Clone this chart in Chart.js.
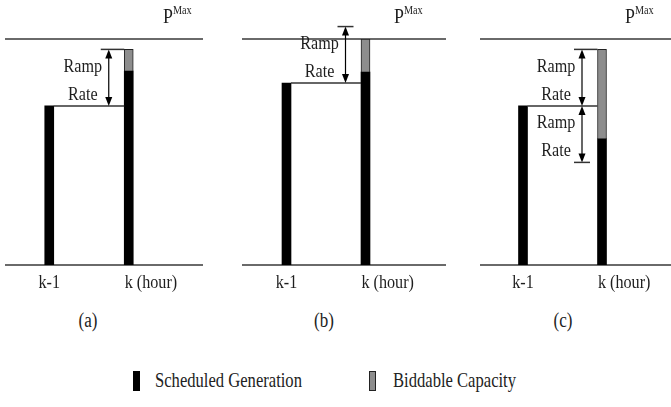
<!DOCTYPE html>
<html><head><meta charset="utf-8">
<script src="https://cdn.jsdelivr.net/npm/chart.js@4"></script>
<style>
html,body{margin:0;padding:0;background:#fff;width:671px;height:407px;overflow:hidden;position:relative;}
canvas.pan{position:absolute;left:0;top:0;}
.cap{position:absolute;font:20px "Liberation Serif",serif;color:#222;transform:translate(-50%,-50%) scaleX(0.85);white-space:nowrap;}
.lg{position:absolute;font:21px "Liberation Serif",serif;color:#222;transform:translateY(-50%) scaleX(0.79);transform-origin:left center;white-space:nowrap;}
.sw{position:absolute;box-sizing:border-box;}
#warm{position:absolute;left:-999px;font:20px "Liberation Serif";}
</style></head><body>
<span id="warm">Ramp Rate</span>
<canvas id="c0" class="pan" width="671" height="300"></canvas>
<canvas id="c1" class="pan" width="671" height="300"></canvas>
<canvas id="c2" class="pan" width="671" height="300"></canvas>
<div id="caps"></div>
<div id="legend"></div>
<script>
// ---- data ----
const categories = ['k-1', 'k (hour)'];
const panelNames = ['(a)', '(b)', '(c)'];
const seriesNames = ['Scheduled Generation', 'Biddable Capacity'];
const pMax = 100;
const rampRate = 25;
const previousOutput = [70.4, 80.5, 70.4];
const scheduledA = [70.4, 85.8];
const scheduledB = [80.5, 85.4];
const scheduledC = [70.4, 55.8];
const biddableA = [0, 9.6];
const biddableB = [0, 14.6];
const biddableC = [0, 39.6];
const rampDirections = [['up'], ['up'], ['up', 'down']];

const scheduled = [scheduledA, scheduledB, scheduledC];
const biddable = [biddableA, biddableB, biddableC];

// ---- layout (pixels) ----
const panelLayout = [
  {lineStart: 5,   lineEnd: 203, chartLeft: 9.5,   chartRight: 168.5, pmaxX: 163, capX: 88},
  {lineStart: 242, lineEnd: 446, chartLeft: 247,   chartRight: 405,   pmaxX: 394, capX: 324},
  {lineStart: 480, lineEnd: 680, chartLeft: 483.5, chartRight: 641.5, pmaxX: 625, capX: 563}
];
const W = 671, H = 300, TOP = 39, BOTTOM = 265;
const FONT = '"Liberation Serif", "Times New Roman", serif';
const TXT = '#1e1e1e';
const SX = 0.85;

function sText(ctx, t, x, y, align) {
  ctx.save();
  ctx.translate(x, y);
  ctx.scale(SX, 1);
  ctx.textAlign = align || 'center';
  ctx.fillText(t, 0, 0);
  ctx.restore();
}

function arrowHead(ctx, x, y, dir) {
  ctx.beginPath();
  ctx.moveTo(x, y);
  ctx.lineTo(x - 3.5, y - dir * 9);
  ctx.lineTo(x + 3.5, y - dir * 9);
  ctx.closePath();
  ctx.fill();
}

function makePanel(i) {
  const L = panelLayout[i];
  const decor = {
    id: 'decor' + i,
    beforeDatasetsDraw(chart) {
      const ctx = chart.ctx, y = chart.scales.y;
      ctx.save();
      ctx.strokeStyle = '#6a6a6a';
      ctx.lineWidth = 2;
      [pMax, 0].forEach(v => {
        const py = Math.round(y.getPixelForValue(v));
        ctx.beginPath(); ctx.moveTo(L.lineStart, py); ctx.lineTo(L.lineEnd, py); ctx.stroke();
      });
      ctx.restore();
    },
    afterDatasetsDraw(chart) {
      const ctx = chart.ctx, x = chart.scales.x, y = chart.scales.y;
      const half = 4.5;
      const x0 = x.getPixelForValue(0), x1 = x.getPixelForValue(1);
      const prev = previousOutput[i];
      const py = y.getPixelForValue(prev);
      const barTop = scheduled[i][1] + biddable[i][1];
      ctx.save();
      ctx.strokeStyle = '#333'; ctx.lineWidth = 1.5;
      ctx.beginPath(); ctx.moveTo(x0 + half, py); ctx.lineTo(x1 - half, py); ctx.stroke();
      const ax = x1 - 20;
      rampDirections[i].forEach(d => {
        const endV = d === 'up' ? prev + rampRate : prev - rampRate;
        const ey = y.getPixelForValue(endV);
        const s = d === 'up' ? -1 : 1;
        ctx.fillStyle = '#000'; ctx.strokeStyle = '#000';
        ctx.lineWidth = 1.2;
        ctx.beginPath(); ctx.moveTo(ax, py + s * 8); ctx.lineTo(ax, ey - s * 8); ctx.stroke();
        arrowHead(ctx, ax, ey, s);
        arrowHead(ctx, ax, py, -s);
        const tickEnd = Math.abs(endV - barTop) < 0.6 ? x1 - half : ax + 8;
        ctx.lineWidth = 1.5; ctx.strokeStyle = '#333';
        ctx.beginPath(); ctx.moveTo(ax - 8, ey); ctx.lineTo(tickEnd, ey); ctx.stroke();
        const mid = (py + ey) / 2;
        ctx.font = '19px ' + FONT; ctx.fillStyle = TXT; ctx.textBaseline = 'middle';
        sText(ctx, 'Ramp', ax - 26, mid - 11);
        sText(ctx, 'Rate', ax - 26, mid + 17);
      });
      // PMax label
      ctx.fillStyle = TXT; ctx.textBaseline = 'alphabetic';
      ctx.font = '21px ' + FONT;
      sText(ctx, 'P', L.pmaxX, 23, 'left');
      const pw = ctx.measureText('P').width * SX;
      ctx.font = '12px ' + FONT;
      sText(ctx, 'Max', L.pmaxX + pw, 14, 'left');
      // category labels
      ctx.font = '19px ' + FONT; ctx.textBaseline = 'middle';
      categories.forEach((c, j) => {
        const px = x.getPixelForValue(j);
        if (j === 0) sText(ctx, c, px, 283, 'center');
        else {
          const kw = ctx.measureText(c.charAt(0)).width * SX;
          sText(ctx, c, px - kw / 2, 283, 'left');
        }
      });
      ctx.restore();
    }
  };
  return new Chart(document.getElementById('c' + i), {
    type: 'bar',
    data: {
      labels: categories,
      datasets: [
        {label: seriesNames[0], data: scheduled[i], backgroundColor: '#000', borderWidth: 0, stack: 's', barThickness: 9},
        {label: seriesNames[1], data: biddable[i], backgroundColor: '#8d8d8d', borderColor: '#222',
         borderWidth: {left: 1, right: 1, top: 1, bottom: 0}, borderSkipped: false, stack: 's', barThickness: 9}
      ]
    },
    options: {
      responsive: false, animation: false, devicePixelRatio: 1,
      layout: {padding: {left: L.chartLeft, right: W - L.chartRight, top: TOP, bottom: H - BOTTOM}},
      scales: {
        x: {display: false, stacked: true},
        y: {display: false, stacked: true, min: 0, max: pMax}
      },
      plugins: {legend: {display: false}, tooltip: {enabled: false}}
    },
    plugins: [decor]
  });
}

function init() {
  [0, 1, 2].forEach(makePanel);
  const caps = document.getElementById('caps');
  panelNames.forEach((n, i) => {
    const d = document.createElement('div');
    d.className = 'cap'; d.textContent = n;
    d.style.left = panelLayout[i].capX + 'px'; d.style.top = '320px';
    caps.appendChild(d);
  });
  const lg = document.getElementById('legend');
  const legendPos = [{sw: 133, tx: 155}, {sw: 369, tx: 393}];
  const legendStyle = [{bg: '#000', bd: 'none'}, {bg: '#8d8d8d', bd: '1px solid #222'}];
  seriesNames.forEach((n, i) => {
    const s = document.createElement('div');
    s.className = 'sw';
    s.style.cssText = `left:${legendPos[i].sw}px;top:371px;width:7px;height:20px;background:${legendStyle[i].bg};border:${legendStyle[i].bd};`;
    lg.appendChild(s);
    const t = document.createElement('div');
    t.className = 'lg'; t.textContent = n;
    t.style.left = legendPos[i].tx + 'px'; t.style.top = '380px';
    lg.appendChild(t);
  });
}
document.fonts.load('19px "Liberation Serif"').then(init, init);
</script>
</body></html>
